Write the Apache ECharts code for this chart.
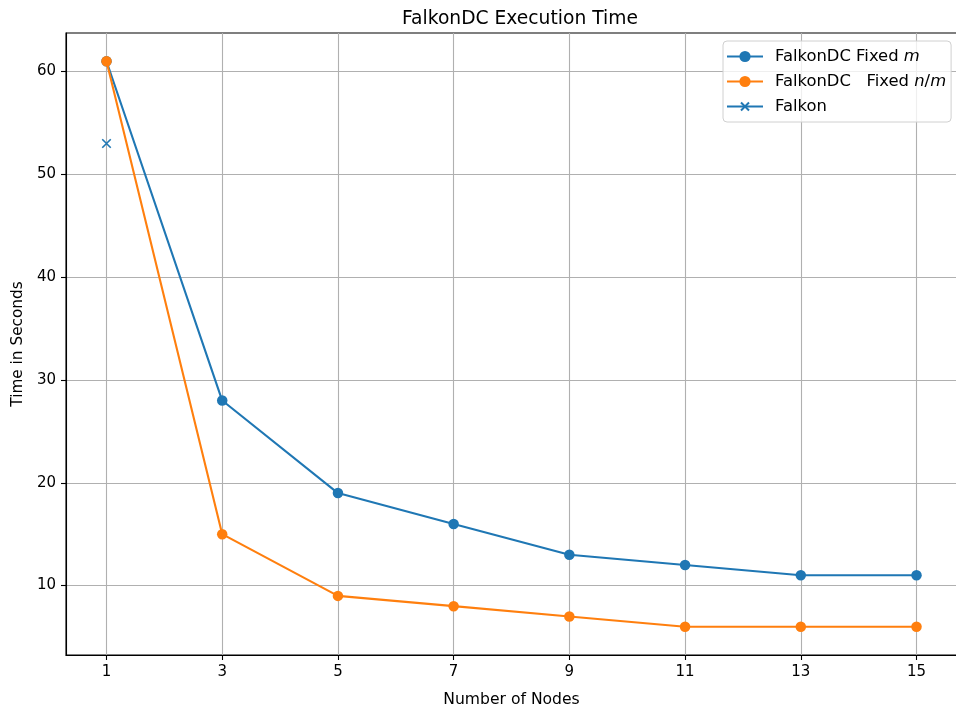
<!DOCTYPE html>
<html>
<head>
<meta charset="utf-8">
<script src="https://cdn.jsdelivr.net/npm/echarts@6/dist/echarts.min.js"></script>
<style>
  html, body { margin: 0; padding: 0; background: #fff; }
  #chart { width: 956px; height: 706px; }
</style>
</head>
<body>
<div id="chart"></div>
<script>
// Number of nodes used in each run
const nodes = [1, 3, 5, 7, 9, 11, 13, 15];
// Execution time (seconds) of FalkonDC with a fixed m
const fixedM = [61, 28, 19, 16, 13, 12, 11, 11];
// Execution time (seconds) of FalkonDC with a fixed n/m
const fixedNM = [61, 15, 9, 8, 7, 6, 6, 6];
// Single-machine Falkon baseline
const falkonNodes = [1];
const falkonTime = [53];
// Tick positions
const xTicks = [1, 3, 5, 7, 9, 11, 13, 15];
const yTicks = [10, 20, 30, 40, 50, 60];

const FONT = 'DejaVu Sans';
const BLUE = '#1f77b4';
const ORANGE = '#ff7f0e';

// matplotlib-style 5% padding around the data
const allY = fixedM.concat(fixedNM, falkonTime);
const yMinD = Math.min(...allY), yMaxD = Math.max(...allY);
const xMinD = Math.min(...nodes), xMaxD = Math.max(...nodes);
const yPad = (yMaxD - yMinD) * 0.05, xPad = (xMaxD - xMinD) * 0.05;

const pairs = (xs, ys) => xs.map((x, i) => [x, ys[i]]);

const chart = echarts.init(document.getElementById('chart'), null, { renderer: 'canvas' });

const legendLabels = {
  fm: 'FalkonDC Fixed {i|m}',
  fnm: 'FalkonDC   Fixed {i|n}/{i|m}',
  fk: 'Falkon'
};

// "x" marker with empty margin so the legend icon stays small
const CROSS = 'path://M-2,-2M0,0L10,10M10,0L0,10M12,12';

chart.setOption({
  animation: false,
  backgroundColor: '#ffffff',
  title: {
    text: 'FalkonDC Execution Time',
    left: 515, top: 5, textAlign: 'center',
    textStyle: { fontFamily: FONT, fontSize: 18.7, fontWeight: 'normal', color: '#000' }
  },
  grid: {
    left: 66, right: -1, top: 33, bottom: 51, containLabel: false,
    outerBoundsMode: 'none',
    show: true, borderColor: '#000', borderWidth: 1.1, backgroundColor: 'transparent'
  },
  legend: {
    orient: 'vertical',
    left: 723, top: 41,
    padding: [6, 5, 6, 3],
    itemGap: 6,
    itemWidth: 36, itemHeight: 14,
    backgroundColor: 'rgba(255,255,255,0.8)',
    borderColor: '#d0d0d0', borderWidth: 1, borderRadius: 4,
    data: ['fm', 'fnm', 'fk'],
    formatter: n => legendLabels[n],
    textStyle: {
      fontFamily: FONT, fontSize: 16.4, lineHeight: 19, color: '#000', padding: [0, 0, 0, 7],
      rich: { i: { fontFamily: FONT, fontSize: 16.4, lineHeight: 19, fontStyle: 'italic', color: '#000' } }
    }
  },
  xAxis: {
    type: 'value',
    min: xMinD - xPad, max: xMaxD + xPad,
    name: 'Number of Nodes', nameLocation: 'middle', nameGap: 37,
    nameTextStyle: { fontFamily: FONT, fontSize: 15.6, color: '#000' },
    axisLine: { show: true, onZero: false, lineStyle: { color: '#000', width: 1.1 } },
    axisTick: { show: true, length: 5, customValues: xTicks, lineStyle: { color: '#000', width: 1.1 } },
    axisLabel: { customValues: xTicks, margin: 10, fontFamily: FONT, fontSize: 15, color: '#000' },
    splitLine: { show: true, lineStyle: { color: '#b0b0b0', width: 1.1 } }
  },
  yAxis: {
    type: 'value',
    min: yMinD - yPad, max: yMaxD + yPad,
    name: 'Time in Seconds', nameLocation: 'middle', nameGap: 40,
    nameTextStyle: { fontFamily: FONT, fontSize: 15.3, color: '#000' },
    axisLine: { show: true, onZero: false, lineStyle: { color: '#000', width: 1.1 } },
    axisTick: { show: true, length: 5, customValues: yTicks, lineStyle: { color: '#000', width: 1.1 } },
    axisLabel: { customValues: yTicks, margin: 10, fontFamily: FONT, fontSize: 15, color: '#000' },
    splitLine: { show: true, lineStyle: { color: '#b0b0b0', width: 1.1 } }
  },
  series: [
    {
      name: 'fm', type: 'line', data: pairs(nodes, fixedM),
      color: BLUE, symbol: 'circle', symbolSize: 10.5,
      lineStyle: { color: BLUE, width: 2.1 }, itemStyle: { color: BLUE },
      z: 3
    },
    {
      name: 'fnm', type: 'line', data: pairs(nodes, fixedNM),
      color: ORANGE, symbol: 'circle', symbolSize: 10.5,
      lineStyle: { color: ORANGE, width: 2.1 }, itemStyle: { color: ORANGE },
      z: 4
    },
    {
      name: 'fk', type: 'line', data: pairs(falkonNodes, falkonTime),
      color: BLUE, symbol: CROSS, symbolSize: 11.9,
      lineStyle: { color: BLUE, width: 2.1 },
      itemStyle: { color: BLUE, borderColor: BLUE, borderWidth: 1.6 },
      z: 5
    }
  ]
});
</script>
</body>
</html>
